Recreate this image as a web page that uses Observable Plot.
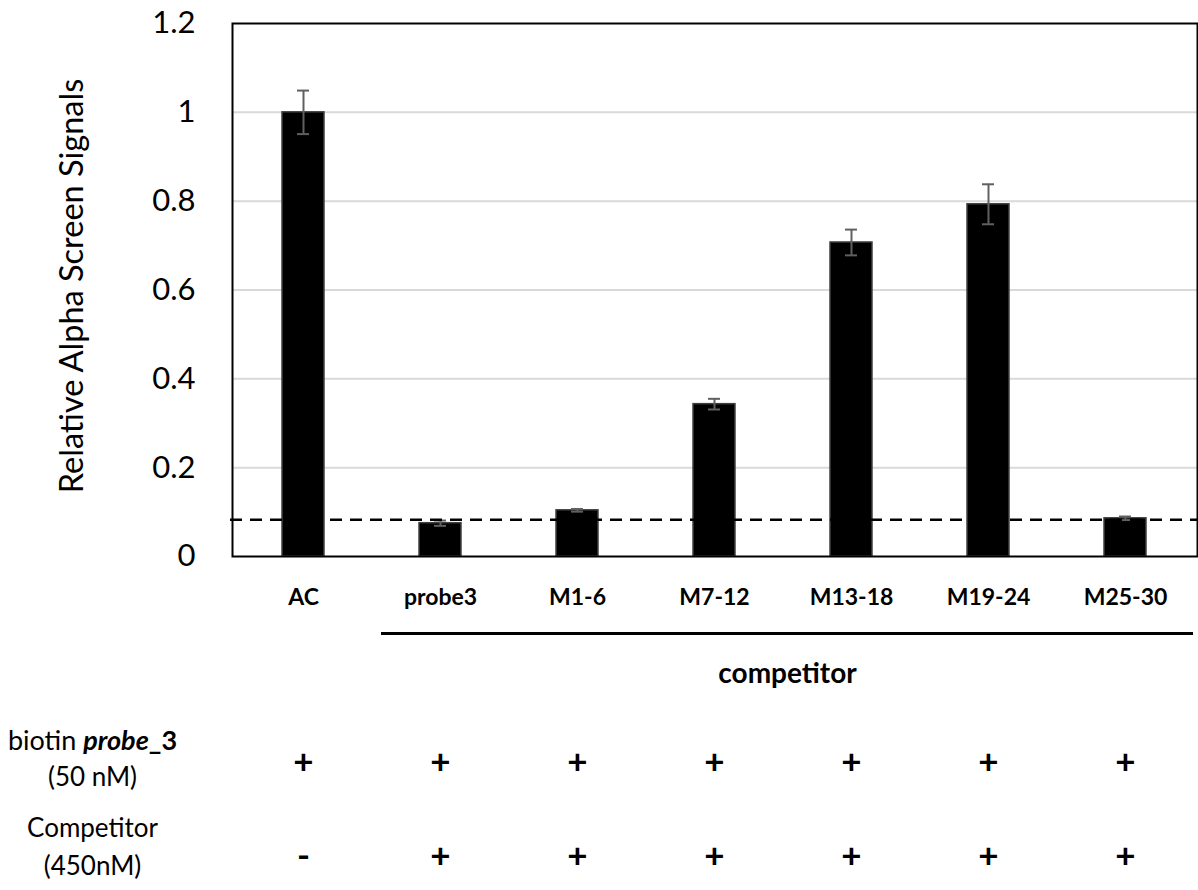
<!DOCTYPE html>
<html>
<head>
<meta charset="utf-8">
<script src="https://cdn.jsdelivr.net/npm/d3@7"></script>
<script src="https://cdn.jsdelivr.net/npm/@observablehq/plot@0.6"></script>
<style>
  html, body { margin: 0; padding: 0; background: #fff; }
  #chart svg { display: block; }
</style>
</head>
<body>
<div id="chart"></div>
<script>
const categories = ["AC", "probe3", "M1-6", "M7-12", "M13-18", "M19-24", "M25-30"];
const values = [1.0, 0.075, 0.104, 0.343, 0.707, 0.793, 0.086];
const errors = [0.049, 0.006, 0.003, 0.012, 0.029, 0.045, 0.004];
const cutoff = 0.083;
const yTicks = [0, 0.2, 0.4, 0.6, 0.8, 1.0, 1.2];
const biotinRow = ["+", "+", "+", "+", "+", "+", "+"];
const competitorRow = ["-", "+", "+", "+", "+", "+", "+"];
const competitorGroup = ["probe3", "M25-30"];
const groupLabel = "competitor";
const yLabel = "Relative Alpha Screen Signals";
const rowLabels = ["biotin probe_3", "(50 nM)", "Competitor", "(450nM)"];

const data = categories.map((c, i) => ({cat: c, v: values[i], e: errors[i], r1: biotinRow[i], r2: competitorRow[i]}));

const font = "Lato, 'Open Sans', sans-serif";

const chart = Plot.plot({
  width: 1198,
  height: 890,
  marginTop: 23,
  marginBottom: 334,
  marginLeft: 232,
  marginRight: 1,
  style: {fontFamily: font, background: "#fff", color: "#000"},
  x: {domain: categories, paddingInner: 0.69, paddingOuter: 0.345, axis: null},
  y: {domain: [0, 1.2], ticks: yTicks, axis: null},
  marks: [
    Plot.gridY(yTicks.filter(t => t > 0 && t < 1.2), {stroke: "#d9d9d9", strokeOpacity: 1, strokeWidth: 2}),
    Plot.axisY(yTicks, {label: null, tickSize: 0, tickPadding: 37, fontSize: 31, tickFormat: d => String(+d.toFixed(1)), fill: "#000"}),
    Plot.barY(data, {x: "cat", y: "v", fill: "#000", stroke: "#404040", strokeWidth: 1.5}),
    Plot.ruleX(data, {x: "cat", y1: d => d.v - d.e, y2: d => d.v + d.e, stroke: "#606060", strokeWidth: 2}),
    Plot.tickY(data, {x: "cat", y: d => d.v + d.e, stroke: "#606060", strokeWidth: 2, insetLeft: 15, insetRight: 15}),
    Plot.tickY(data, {x: "cat", y: d => d.v - d.e, stroke: "#606060", strokeWidth: 2, insetLeft: 15, insetRight: 15}),
    Plot.ruleY([cutoff], {stroke: "#000", strokeWidth: 2.5, strokeDasharray: "12,8", insetLeft: -2}),
    Plot.frame({stroke: "#000", strokeWidth: 2}),
    // category labels
    Plot.text(data, {x: "cat", text: "cat", frameAnchor: "bottom", lineAnchor: "middle", dy: 41, fontWeight: "bold", fontSize: 23, fill: "#000"}),
    // competitor bracket line
    Plot.ruleY([0], {x1: () => competitorGroup[0], x2: () => competitorGroup[1], dy: 77, stroke: "#000", strokeWidth: 3, insetLeft: -38, insetRight: -47}),
    Plot.text([groupLabel], {x: () => "M7-12", text: d => d, frameAnchor: "bottom", lineAnchor: "middle", dy: 118, dx: 73, fontWeight: "bold", fontSize: 28, fill: "#000"}),
    // condition rows
    Plot.text(data, {x: "cat", text: "r1", frameAnchor: "bottom", lineAnchor: "middle", dy: 206, fontWeight: "bold", fontSize: 35, fill: "#000"}),
    Plot.text(data, {x: "cat", text: "r2", frameAnchor: "bottom", lineAnchor: "middle", dy: 300, fontWeight: "bold", fontSize: 35, fill: "#000"}),
    // row labels
    Plot.text([rowLabels[0]], {text: d => d, frameAnchor: "bottom-left", textAnchor: "middle", lineAnchor: "middle", dx: -140, dy: 185, fontSize: 27, fill: "#000"}),
    Plot.text([rowLabels[1]], {text: d => d, frameAnchor: "bottom-left", textAnchor: "middle", lineAnchor: "middle", dx: -140, dy: 221, fontSize: 26, fill: "#000"}),
    Plot.text([rowLabels[2]], {text: d => d, frameAnchor: "bottom-left", textAnchor: "middle", lineAnchor: "middle", dx: -140, dy: 272, fontSize: 26, fill: "#000"}),
    Plot.text([rowLabels[3]], {text: d => d, frameAnchor: "bottom-left", textAnchor: "middle", lineAnchor: "middle", dx: -140, dy: 310, fontSize: 26, fill: "#000"}),
    // y label
    Plot.text([yLabel], {text: d => d, frameAnchor: "left", rotate: -90, dx: -160, dy: -4, textAnchor: "middle", lineAnchor: "middle", fontSize: 32.5, fill: "#000"})
  ]
});

// style mixed label "biotin probe_3"
d3.select(chart).selectAll("text").filter(function() { return this.textContent === rowLabels[0]; })
  .each(function() {
    const t = d3.select(this);
    t.text(null);
    t.append("tspan").text("biotin ");
    t.append("tspan").attr("font-weight", "bold").attr("font-style", "italic").text("probe");
    t.append("tspan").attr("font-weight", "bold").text("_3");
  });

document.getElementById("chart").appendChild(chart);
</script>
</body>
</html>
